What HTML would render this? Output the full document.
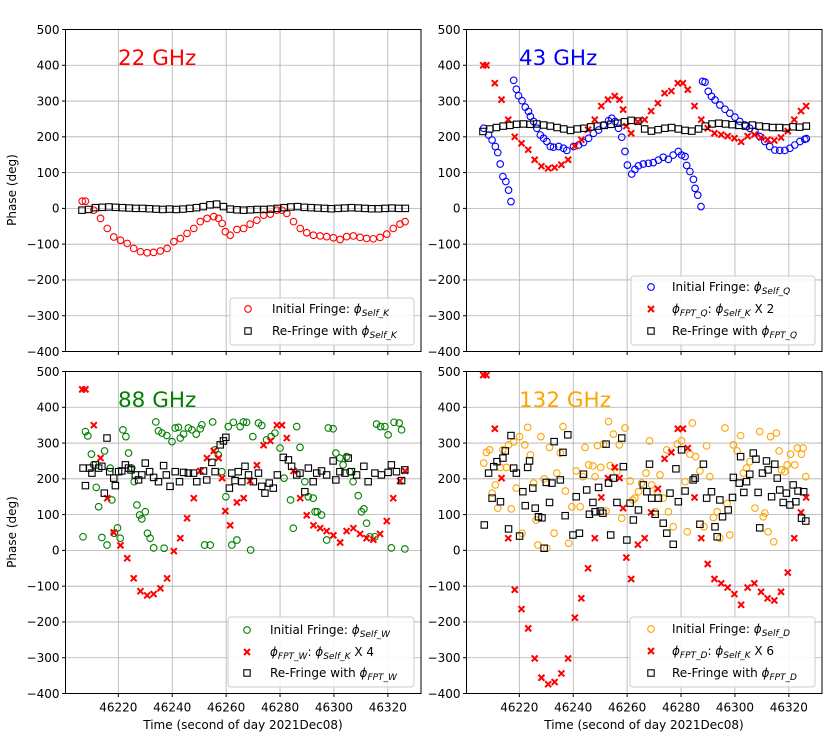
<!DOCTYPE html>
<html><head><meta charset="utf-8"><style>
html,body{margin:0;padding:0;background:#fff;}
svg{display:block;font-family:"DejaVu Sans","Liberation Sans",sans-serif;}
</style></head><body>
<svg id="fig" width="830" height="738" viewBox="0 0 830 738" xmlns="http://www.w3.org/2000/svg"></svg>
<script>
const T0 = 46000;
const yTicks = [-400,-300,-200,-100,0,100,200,300,400,500];
const xTicks = [46220,46240,46260,46280,46300,46320];

// 22 GHz initial fringe (self K) times & values
const tSelfK = [206.6,207.8,210.9,213.4,215.9,218.3,220.8,223.3,225.7,228.2,230.7,233.1,235.6,238.1,240.6,243.0,245.5,248.0,250.4,252.9,255.4,257.2,258.5,259.7,261.5,264.0,266.5,268.9,271.4,273.9,276.4,278.8,280.7,282.5,285.0,287.5,289.9,292.4,294.9,297.3,299.8,302.3,304.7,307.2,309.7,312.1,314.6,317.1,319.6,322.0,324.5,326.4];
const vSelfK = [20,20,-5,-28,-56,-80,-89,-98,-112,-121,-124,-123,-119,-112,-93,-84,-70,-56,-37,-28,-23,-28,-42,-65,-75,-59,-56,-44,-33,-19,-16,-5,-5,-14,-37,-56,-68,-75,-77,-79,-82,-87,-79,-77,-81,-84,-85,-81,-72,-56,-44,-37];
// scaled FPT series (same times as tSelfK)
const vFPTQ = [400,400,350,304,248,200,182,164,136,118,112,114,122,136,174,192,220,248,286,304,314,304,276,230,210,242,248,272,294,322,328,350,350,332,286,248,224,210,206,202,196,186,202,206,198,192,190,198,216,248,272,286];
const vFPTW = [450,450,350,258,146,50,14,-22,-78,-114,-126,-122,-106,-78,-2,34,90,146,222,258,278,258,202,110,70,134,146,194,238,294,306,350,350,314,222,146,98,70,62,54,42,22,54,62,46,34,30,46,82,146,194,222];
const vFPTD = [490,490,340,202,34,-110,-164,-218,-302,-356,-374,-368,-344,-302,-188,-134,-50,34,148,202,232,202,118,-20,-80,16,34,106,172,256,274,340,340,286,148,34,-38,-80,-92,-104,-122,-152,-104,-92,-116,-134,-140,-116,-62,34,106,148];

// Re-fringe times (22 & 43 GHz)
const tRe = [206.5,209,211.5,214,216.5,219,221.5,224,226.5,229,231.5,234,236.5,239,241.5,244,246.5,249,251.5,254,256.5,259,261.5,264,266.5,269,271.5,274,276.5,279,281.5,284,286.5,289,291.5,294,296.5,299,301.5,304,306.5,309,311.5,314,316.5,319,321.5,324,326.5];
const vReK = [-5,-3,2,3,4,3,2,1,0,0,-1,-2,-3,-2,-3,-2,0,2,5,10,12,5,-2,-4,-5,-4,-3,-3,-2,0,2,4,5,3,2,1,0,-1,0,1,2,1,0,-1,-1,0,1,0,0];
const vReQ = [215,222,226,230,232,235,236,235,236,233,230,226,222,218,222,224,228,230,232,235,238,242,246,244,222,216,220,224,226,222,218,216,222,230,236,238,236,234,232,230,233,230,228,226,226,225,228,227,230];

// 43 GHz initial fringe
const tSelfQ = [206.8,208.6,209.9,211.1,212.0,212.9,213.9,215.0,216.0,216.9,217.9,218.9,219.7,221.0,222.2,223.4,224.1,225.3,226.5,227.8,229.0,230.2,231.5,232.7,234.6,236.4,237.6,240.1,242.0,243.8,245.7,247.5,249.4,251.2,253.1,254.3,255.5,256.8,258.0,259.2,260.1,261.7,262.9,264.2,266.0,267.9,269.7,271.6,273.4,275.3,277.1,279.0,280.2,281.5,282.1,283.3,284.6,285.2,286.2,287.4,288.0,288.9,290.1,291.3,292.6,294.4,296.3,298.1,300.0,301.8,303.7,305.5,307.4,309.2,311.1,312.9,314.8,316.6,318.5,320.4,322.2,324.1,325.9,326.5];
const vSelfQ = [224,205,191,173,156,124,89,75,51,19,358,333,315,301,283,271,257,243,224,205,196,187,173,171,173,168,162,173,177,184,196,210,219,233,245,252,243,224,199,159,121,96,109,119,124,126,128,135,143,137,149,159,149,145,120,103,81,56,37,5,355,353,327,313,303,289,277,266,255,243,233,224,215,201,187,173,163,162,162,168,177,187,193,195];

// 88 GHz initial fringe
const tSelfW = [206.9,207.8,208.7,210.0,210.8,211.8,212.7,213.9,214.9,215.8,217.0,217.6,218.5,219.7,220.7,221.7,222.8,223.8,225.0,225.9,226.9,227.9,228.7,230.0,230.8,231.8,233.1,233.9,234.9,236.2,237.0,238.0,239.9,241.1,242.3,243.0,244.2,246.0,247.3,248.9,250.4,251.0,252.0,254.1,255.0,255.9,257.1,258.4,259.9,260.8,262.1,262.7,264.0,265.2,266.4,267.6,269.1,269.9,272.0,273.2,275.0,276.7,278.1,280.0,281.5,283.9,284.9,286.2,287.4,289.2,290.5,292.3,293.0,293.8,295.4,297.3,297.9,299.7,300.7,302.2,303.4,304.7,305.9,307.1,309.0,310.2,311.1,312.1,313.3,315.2,315.8,317.3,318.9,320.1,321.3,322.3,324.2,325.1,326.3];
const vSelfW = [38,332,320,269,239,176,122,36,278,15,230,141,48,63,34,337,318,272,230,192,127,99,88,108,48,34,7,359,334,328,6,321,304,342,344,314,325,342,337,325,340,351,15,15,359,281,267,220,150,346,15,358,29,346,359,358,1,318,356,349,309,318,328,286,202,141,62,346,288,192,150,146,108,108,99,29,342,340,272,258,239,262,220,192,153,108,116,76,38,38,353,346,346,323,7,358,356,337,4];
// 88 GHz re-fringe
const tReW = [206.9,207.8,209.4,210.2,211.5,212.7,213.9,214.8,215.8,216.8,218.3,218.9,220.1,221.3,222.6,223.8,224.7,226.3,227.5,228.7,230.0,231.6,233.1,234.9,236.8,237.8,239.2,241.1,242.7,244.2,246.0,247.9,249.1,251.6,252.8,254.7,255.9,257.8,259.0,259.9,261.2,262.1,263.3,264.5,265.8,267.0,268.3,270.1,272.0,273.2,274.4,276.0,277.5,279.0,281.2,283.1,284.3,286.2,287.4,289.2,290.5,292.3,293.6,295.4,297.3,299.7,300.7,302.2,304.1,305.3,306.5,308.4,311.1,312.7,315.2,317.6,320.1,321.3,323.2,325.1,326.3];
const vReW = [230,181,230,216,239,230,235,160,314,220,202,181,220,222,239,230,225,211,197,211,244,220,204,192,237,211,179,220,192,218,216,216,192,222,197,246,220,295,306,316,174,216,195,220,192,235,211,192,216,179,160,188,174,211,260,253,235,211,216,164,230,192,216,222,211,250,197,220,216,258,220,211,235,192,216,211,218,239,220,195,225];

// 132 GHz initial fringe
const tSelfD = [206.8,207.8,209.0,209.9,211.1,212.0,213.0,213.9,215.2,216.0,217.0,217.9,218.9,220.1,221.0,222.0,223.1,224.1,225.3,226.2,226.9,228.0,229.2,230.2,231.2,232.9,233.9,235.2,236.2,237.1,238.3,239.5,241.1,242.6,243.6,244.4,245.7,247.3,248.1,249.0,250.2,251.2,252.2,253.1,253.7,254.9,256.2,257.1,258.0,259.2,261.1,262.1,262.9,264.2,265.4,267.0,268.3,269.1,270.4,271.2,272.2,273.4,274.7,275.3,277.1,278.6,280.2,281.5,282.3,283.3,284.2,285.4,287.0,288.5,289.5,290.7,292.0,293.4,294.4,296.3,297.1,298.1,299.4,300.8,302.1,303.1,304.3,305.5,307.4,309.2,310.5,311.1,312.3,313.2,314.4,315.4,316.4,317.3,318.5,319.4,320.6,322.2,323.1,324.7,325.3,326.3];
const vSelfD = [244,274,281,160,183,118,232,281,232,295,116,303,174,318,48,295,344,267,188,85,15,318,200,6,288,48,216,272,346,166,20,122,222,122,206,288,239,236,206,293,232,297,110,360,237,325,220,295,90,342,194,141,146,164,188,216,306,183,108,164,211,146,281,108,66,297,306,192,52,269,356,262,222,66,292,206,92,108,34,342,131,43,295,278,321,216,230,248,118,332,94,104,52,318,24,328,278,225,220,239,269,239,286,269,286,206];
// 132 GHz re-fringe
const tReD = [207.0,208.6,209.9,210.5,211.7,213.0,213.9,214.8,216.0,216.9,217.9,218.9,220.1,221.3,222.2,223.1,223.8,225.0,225.9,227.1,228.4,229.2,230.0,231.2,232.1,232.9,235.2,236.2,237.0,238.0,239.9,241.1,242.3,243.8,245.0,246.0,247.3,248.1,249.4,250.0,251.0,252.2,253.1,253.9,254.9,256.2,258.0,258.6,259.9,261.1,262.3,264.2,266.0,267.3,268.3,269.1,270.4,271.6,273.4,274.7,275.9,277.1,278.1,279.0,280.2,281.5,284.5,285.2,287.0,288.3,289.5,291.3,292.6,293.4,294.4,295.4,297.5,299.1,299.4,301.6,302.1,303.3,304.3,305.5,306.8,307.8,308.6,309.2,310.2,311.7,312.3,313.6,314.8,315.7,316.6,317.9,319.1,320.4,321.6,322.6,323.4,324.7,325.5,326.3];
const vReD = [71,216,146,234,248,136,258,278,60,321,230,216,40,164,125,232,250,174,118,94,91,6,190,134,188,304,197,274,97,323,43,150,48,213,169,101,134,108,176,110,104,297,188,43,202,134,314,234,29,132,85,113,183,164,241,146,101,146,76,48,160,17,228,136,281,166,197,202,73,241,146,164,66,38,141,94,113,148,204,188,262,162,192,213,272,255,162,63,216,250,225,150,241,202,169,134,160,127,183,136,166,90,164,82];

const svg = document.getElementById('fig');
const NS = 'http://www.w3.org/2000/svg';
function el(tag, attrs, parent){
  const e = document.createElementNS(NS, tag);
  for (const k in attrs) e.setAttribute(k, attrs[k]);
  (parent||svg).appendChild(e);
  return e;
}
const XMIN = 46200.4, XMAX = 46332.3, YMIN = -400, YMAX = 500;
function mkX(p){ return t => p.x0 + (t - XMIN)/(XMAX - XMIN)*(p.x1 - p.x0); }
function mkY(p){ return v => p.y1 - (v - YMIN)/(YMAX - YMIN)*(p.y1 - p.y0); }
const fmt = v => (v < 0 ? '\u2212' + Math.abs(v) : '' + v);

const panels = [
  {x0:65.5,x1:421,y0:29.5,y1:351.5,name:'panel-22ghz',xlab:false},
  {x0:466.5,x1:822,y0:29.5,y1:351.5,name:'panel-43ghz',xlab:false},
  {x0:65.5,x1:421,y0:371.5,y1:693.5,name:'panel-88ghz',xlab:true},
  {x0:466.5,x1:822,y0:371.5,y1:693.5,name:'panel-132ghz',xlab:true}
];

function axes(p){
  const g = el('g', {});
  
  
  const X = mkX(p), Y = mkY(p);
  const clipId = 'clip-' + p.name;
  const cp = el('clipPath', {id: clipId}, g);
  el('rect', {x:p.x0, y:p.y0, width:p.x1-p.x0, height:p.y1-p.y0}, cp);
  const grid = el('g', {stroke:'#b0b0b0','stroke-width':0.8}, g);
  
  
  xTicks.forEach(t => {
    const x = X(t);
    el('line', {x1:x, x2:x, y1:p.y0, y2:p.y1}, grid);
    el('line', {x1:x, x2:x, y1:p.y1, y2:p.y1+3.5, stroke:'#000'}, g);
    if (p.xlab){
      const tx = el('text', {x:x, y:p.y1+18, 'text-anchor':'middle','font-size':12}, g);
      
      
      tx.textContent = t;
    }
  });
  yTicks.forEach(v => {
    const y = Y(v);
    el('line', {x1:p.x0, x2:p.x1, y1:y, y2:y}, grid);
    el('line', {x1:p.x0-3.5, x2:p.x0, y1:y, y2:y, stroke:'#000'}, g);
    const ty = el('text', {x:p.x0-6, y:y+4.3, 'text-anchor':'end','font-size':12}, g);
    
    
    ty.textContent = fmt(v);
  });
  const plot = el('g', {'clip-path':'url(#'+clipId+')'}, g);
  const fr = el('rect', {x:p.x0, y:p.y0, width:p.x1-p.x0, height:p.y1-p.y0, fill:'none', stroke:'#000','stroke-width':1}, g);
  
  
  return {g, plot, X, Y};
}

function circles(ax, ts, vs, color, name){
  const g = el('g', {fill:'none', stroke:color, 'stroke-width':1.1}, ax.plot);
  
  
  for (let i=0;i<ts.length;i++){
    const c = el('circle', {cx:ax.X(T0+ts[i]), cy:ax.Y(vs[i]), r:3.3}, g);
    
    
  }
}
function squares(ax, ts, vs, name){
  const g = el('g', {fill:'none', stroke:'#000', 'stroke-width':1.1}, ax.plot);
  
  
  for (let i=0;i<ts.length;i++){
    const r = el('rect', {x:ax.X(T0+ts[i])-3.2, y:ax.Y(vs[i])-3.2, width:6.4, height:6.4}, g);
    
    
  }
}
function crosses(ax, ts, vs, name){
  const g = el('g', {stroke:'#ff0000', 'stroke-width':2}, ax.plot);
  
  
  for (let i=0;i<ts.length;i++){
    const x = ax.X(T0+ts[i]), y = ax.Y(vs[i]);
    const p = el('path', {d:`M${x-3},${y-3}L${x+3},${y+3}M${x-3},${y+3}L${x+3},${y-3}`}, g);
    
    
  }
}
function title(x, y, txt, color, name){
  const t = el('text', {x:x, y:y, fill:color, 'font-size':21.5});
  
  
  t.textContent = txt;
}
function phiText(parent, x, y, parts){
  // parts: array of [text, kind] kind: 'n' normal, 's' subscript italic
  const t = el('text', {x:x, y:y, 'font-size':12}, parent);
  
  
  parts.forEach(pt => {
    const s = el('tspan', {}, t);
    if (pt[1]==='s'){ s.setAttribute('font-size', 9); s.setAttribute('font-style','italic'); s.setAttribute('dy', 3); }
    else if (pt[1]==='phi'){ s.setAttribute('font-style','italic'); s.setAttribute('dy', pt[2]||0); }
    else { s.setAttribute('dy', pt[2]||0); }
    s.textContent = pt[0];
  });
}
function legend(x0,y0,x1,y1,rows,name){
  const g = el('g', {});
  
  
  el('rect', {x:x0, y:y0, width:x1-x0, height:y1-y0, rx:3, fill:'#fff','fill-opacity':0.85, stroke:'#cccccc'}, g);
  rows.forEach(r => {
    const e = el('g', {}, g);
    
    
    if (r.m==='o') el('circle', {cx:r.mx, cy:r.y, r:3.3, fill:'none', stroke:r.c, 'stroke-width':1.1}, e);
    else if (r.m==='s') el('rect', {x:r.mx-3.2, y:r.y-3.2, width:6.4, height:6.4, fill:'none', stroke:'#000','stroke-width':1.1}, e);
    else el('path', {d:`M${r.mx-3},${r.y-3}L${r.mx+3},${r.y+3}M${r.mx-3},${r.y+3}L${r.mx+3},${r.y-3}`, stroke:'#ff0000','stroke-width':2}, e);
    phiText(e, r.tx, r.y+4, r.parts);
  });
}

const a1 = axes(panels[0]);
circles(a1, tSelfK, vSelfK, '#ff0000', 'series-initial-fringe-22');
squares(a1, tRe, vReK, 'series-refringe-22');
const a2 = axes(panels[1]);
circles(a2, tSelfQ, vSelfQ, '#0000ff', 'series-initial-fringe-43');
crosses(a2, tSelfK, vFPTQ, 'series-fpt-43');
squares(a2, tRe, vReQ, 'series-refringe-43');
const a3 = axes(panels[2]);
circles(a3, tSelfW, vSelfW, '#008000', 'series-initial-fringe-88');
crosses(a3, tSelfK, vFPTW, 'series-fpt-88');
squares(a3, tReW, vReW, 'series-refringe-88');
const a4 = axes(panels[3]);
circles(a4, tSelfD, vSelfD, '#ffa500', 'series-initial-fringe-132');
crosses(a4, tSelfK, vFPTD, 'series-fpt-132');
squares(a4, tReD, vReD, 'series-refringe-132');

title(118, 65, '22 GHz', '#ff0000', 'title-22ghz');
title(519, 65, '43 GHz', '#0000ff', 'title-43ghz');
title(118, 407, '88 GHz', '#008000', 'title-88ghz');
title(519, 407, '132 GHz', '#ffa500', 'title-132ghz');

legend(230,298,414,345,[
  {m:'o',c:'#ff0000',mx:248,tx:272,y:309,parts:[['Initial Fringe: ','n'],['\u03D5','phi'],['Self_K','s']]},
  {m:'s',mx:248,tx:272,y:331,parts:[['Re-Fringe with ','n'],['\u03D5','phi'],['Self_K','s']]}
],'legend-22ghz');
legend(631,276,815,345,[
  {m:'o',c:'#0000ff',mx:651,tx:672,y:287,parts:[['Initial Fringe: ','n'],['\u03D5','phi'],['Self_Q','s']]},
  {m:'x',mx:651,tx:672,y:309,parts:[['\u03D5','phi'],['FPT_Q','s'],[': ','n',-3],['\u03D5','phi'],['Self_K','s'],[' X 2','n',-3]]},
  {m:'s',mx:651,tx:672,y:331,parts:[['Re-Fringe with ','n'],['\u03D5','phi'],['FPT_Q','s']]}
],'legend-43ghz');
legend(228,617,414,687,[
  {m:'o',c:'#008000',mx:247,tx:270,y:630,parts:[['Initial Fringe: ','n'],['\u03D5','phi'],['Self_W','s']]},
  {m:'x',mx:247,tx:270,y:652,parts:[['\u03D5','phi'],['FPT_W','s'],[': ','n',-3],['\u03D5','phi'],['Self_K','s'],[' X 4','n',-3]]},
  {m:'s',mx:247,tx:270,y:673,parts:[['Re-Fringe with ','n'],['\u03D5','phi'],['FPT_W','s']]}
],'legend-88ghz');
legend(630,617,815,687,[
  {m:'o',c:'#ffa500',mx:651,tx:672,y:629,parts:[['Initial Fringe: ','n'],['\u03D5','phi'],['Self_D','s']]},
  {m:'x',mx:651,tx:672,y:651,parts:[['\u03D5','phi'],['FPT_D','s'],[': ','n',-3],['\u03D5','phi'],['Self_K','s'],[' X 6','n',-3]]},
  {m:'s',mx:651,tx:672,y:673,parts:[['Re-Fringe with ','n'],['\u03D5','phi'],['FPT_D','s']]}
],'legend-132ghz');

function yLabel(cy, name){
  const t = el('text', {x:0, y:0, 'font-size':12, 'text-anchor':'middle', transform:`translate(16,${cy}) rotate(-90)`});
  
  
  t.textContent = 'Phase (deg)';
}
yLabel(190, 'y-axis-title-top');
yLabel(532, 'y-axis-title-bottom');
[243, 644].forEach((cx, i) => {
  const t = el('text', {x:cx, y:729, 'font-size':12, 'text-anchor':'middle'});
  
  
  t.textContent = 'Time (second of day 2021Dec08)';
});
</script>
</body></html>
